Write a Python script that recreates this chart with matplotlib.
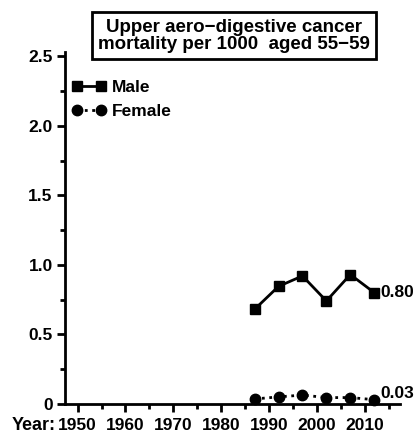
import matplotlib
matplotlib.use('Agg')
import matplotlib.pyplot as plt
from matplotlib.ticker import MultipleLocator, FixedLocator

plt.rcParams['font.family'] = ['Liberation Sans', 'DejaVu Sans']
plt.rcParams['font.weight'] = 'bold'

years = [1987, 1992, 1997, 2002, 2007, 2012]
male = [0.68, 0.845, 0.92, 0.74, 0.93, 0.80]
female = [0.035, 0.05, 0.063, 0.045, 0.045, 0.03]
end_labels = ['0.80', '0.03']
yticks = [0, 0.5, 1.0, 1.5, 2.0, 2.5]
ytick_labels = ['0', '0.5', '1.0', '1.5', '2.0', '2.5']
xticks = [1950, 1960, 1970, 1980, 1990, 2000, 2010]
title = 'Upper aero\u2212digestive cancer\nmortality per 1000  aged 55\u221259'

fig = plt.figure(figsize=(4.15, 4.38), dpi=100)
ax = fig.add_axes([0.157, 0.078, 0.807, 0.803])

ax.plot(years, male, color='black', lw=2, marker='s', ms=7.5,
        clip_on=False, label='Male')
ax.plot(years, female, color='black', lw=2, ls=':', marker='o', ms=7.5,
        clip_on=False, label='Female')

ax.text(years[-1] + 1.2, male[-1], end_labels[0], fontsize=12.5,
        fontweight='bold', va='center', ha='left')
ax.text(years[-1] + 1.2, female[-1] + 0.045, end_labels[1], fontsize=12.5,
        fontweight='bold', va='center', ha='left')

ax.set_xlim(1947.4, 2017.4)
ax.set_ylim(0, 2.53)
ax.set_yticks(yticks)
ax.set_yticklabels(ytick_labels)
ax.yaxis.set_minor_locator(MultipleLocator(0.25))
ax.set_xticks(xticks)
ax.xaxis.set_minor_locator(FixedLocator([1955, 1965, 1975, 1985, 1995, 2005, 2015]))

for s in ['top', 'right']:
    ax.spines[s].set_visible(False)
for s in ['left', 'bottom']:
    ax.spines[s].set_linewidth(2)
ax.spines['left'].set_bounds(0, 2.53)

ax.tick_params(which='major', direction='out', length=6, width=2,
               labelsize=12.5, pad=3)
ax.tick_params(axis='x', which='major', pad=4)
ax.tick_params(which='minor', direction='out', length=3.5, width=2)
for lab in ax.get_xticklabels() + ax.get_yticklabels():
    lab.set_fontweight('bold')

fig.text(0.027, 0.028, 'Year:', fontsize=13, fontweight='bold',
         ha='left', va='center')

leg = ax.legend(loc='upper left', bbox_to_anchor=(-0.017, 0.955), frameon=False,
                numpoints=2, handlelength=2.0, handletextpad=0.3,
                labelspacing=0.5, borderaxespad=0.3,
                prop={'size': 12.5, 'weight': 'bold'})

fig.text(0.564, 0.918, title, fontsize=13.5, fontweight='bold',
         ha='center', va='center', linespacing=1.05,
         bbox=dict(boxstyle='square,pad=0.33', fc='white', ec='black', lw=2))

fig.savefig('out.png', dpi=100)
